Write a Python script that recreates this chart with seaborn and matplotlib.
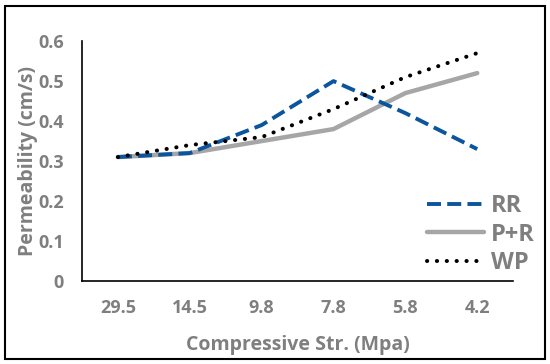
import pandas as pd
import matplotlib.pyplot as plt
import seaborn as sns
from matplotlib.patches import Rectangle

strength = ['29.5', '14.5', '9.8', '7.8', '5.8', '4.2']
rr = [0.31, 0.32, 0.39, 0.50, 0.42, 0.33]
pr = [0.31, 0.32, 0.35, 0.38, 0.47, 0.52]
wp = [0.31, 0.34, 0.36, 0.43, 0.51, 0.57]

df = pd.DataFrame({'strength': strength * 3,
                   'perm': rr + pr + wp,
                   'mix': ['RR'] * 6 + ['P+R'] * 6 + ['WP'] * 6})

sns.set_style("white")
plt.rcParams['font.family'] = ['Open Sans', 'DejaVu Sans']
gray = '#7f7f7f'

fig = plt.figure(figsize=(5.5, 3.64), dpi=100)
ax = fig.add_axes([0.149, 0.228, 0.784, 0.659])

palette = {'RR': '#0b559f', 'P+R': '#a6a6a6', 'WP': '#000000'}
sns.lineplot(data=df, x='strength', y='perm', hue='mix', palette=palette,
             sort=False, ax=ax, linewidth=2.8, legend=False)
lines = ax.get_lines()
lines[0].set_dashes([3.6, 1.6])
lines[0].set_zorder(3)
lines[1].set_linewidth(3.2)
lines[2].set_linestyle((0, (0.05, 2.4)))
lines[2].set_linewidth(2.9)
lines[2].set_dash_capstyle('round')
lines[2].set_zorder(4)

ax.set_xlim(-0.5, 5.5)
ax.set_ylim(0, 0.6)
ax.set_yticks([0, 0.1, 0.2, 0.3, 0.4, 0.5, 0.6])
ax.set_yticklabels(['0', '0.1', '0.2', '0.3', '0.4', '0.5', '0.6'])
ax.tick_params(axis='both', length=0, labelsize=13, labelcolor=gray)
ax.tick_params(axis='x', pad=13)
ax.tick_params(axis='y', pad=13)
for lab in ax.get_xticklabels() + ax.get_yticklabels():
    lab.set_fontweight('bold')

for s in ['top', 'right']:
    ax.spines[s].set_visible(False)
for s in ['left', 'bottom']:
    ax.spines[s].set_color('black')
    ax.spines[s].set_linewidth(1.2)

ax.set_xlabel('Compressive Str. (Mpa)', fontsize=14, fontweight='bold', color=gray, labelpad=13)
ax.set_ylabel('Permeability (cm/s)', fontsize=14, fontweight='bold', color=gray, labelpad=0)

leg = ax.legend(lines, ['RR', 'P+R', 'WP'], loc='lower right', bbox_to_anchor=(1.1, -0.065),
                frameon=False, fontsize=17, handlelength=2.4, handletextpad=0.3,
                labelspacing=0.2)
for t in leg.get_texts():
    t.set_color(gray)
    t.set_fontweight('bold')

fig.patches.append(Rectangle((0.009, 0.014), 0.981, 0.969, transform=fig.transFigure,
                             fill=False, edgecolor='black', linewidth=1.5))

fig.savefig('out.png', dpi=100)
